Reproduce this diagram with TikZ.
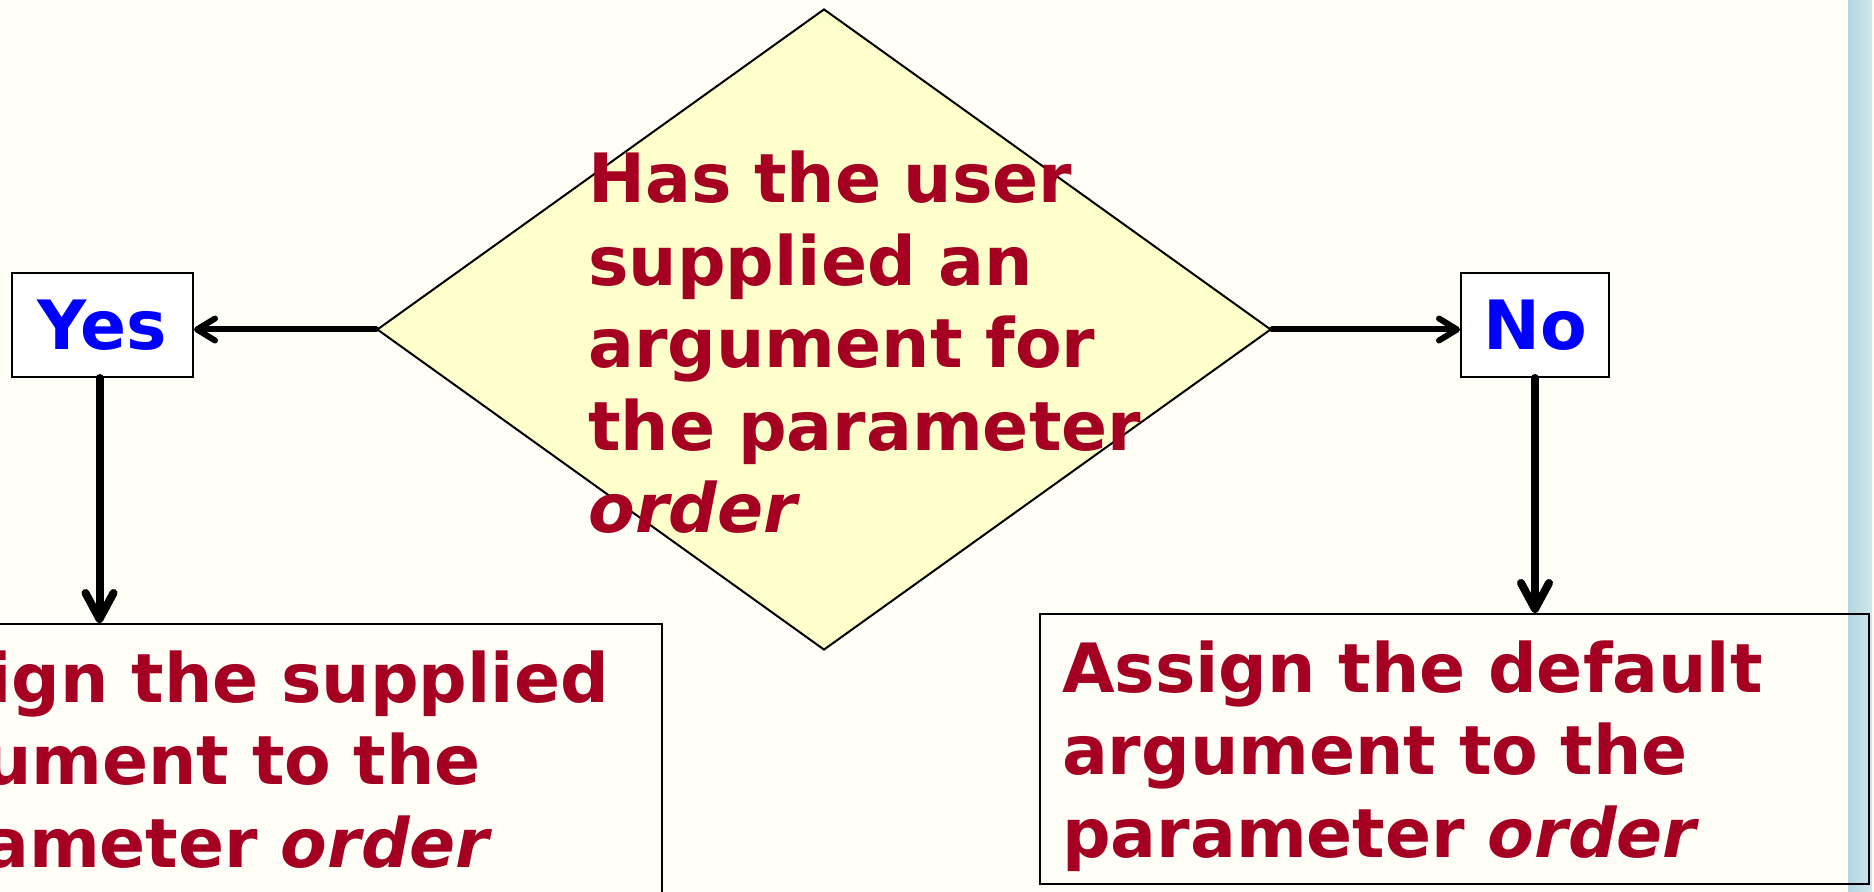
\documentclass[tikz,border=0pt]{standalone}
\usepackage{fontspec}
\setmainfont{DejaVu Sans}
\usetikzlibrary{shapes.geometric,arrows.meta}

\definecolor{bgivory}{HTML}{FFFFF7}
\definecolor{dfill}{HTML}{FFFFCC}
\definecolor{txtred}{HTML}{A50021}
\definecolor{stripleft}{HTML}{B2D6E0}
\definecolor{stripright}{HTML}{D0E6EC}

\newcommand{\bigfont}{\bfseries\fontsize{34}{41.25}\selectfont}

\tikzset{
  decision/.style={diamond, draw=black, line width=1pt, fill=dfill,
    minimum width=447pt, minimum height=320.5pt, inner sep=0pt},
  qtext/.style={text=txtred, font=\bigfont, align=left, text width=300pt, inner sep=0pt},
  choice/.style={draw=black, line width=1pt, fill=white, text=blue, font=\bigfont,
    minimum height=52pt, inner sep=0pt},
  action/.style={draw=black, line width=1pt, text=txtred, font=\bigfont, align=left,
    text width=392.5pt, inner xsep=11pt, inner ysep=0pt, text height=39pt, text depth=96pt},
  harrow/.style={line width=3pt, line cap=round,
    -{Straight Barb[length=9pt, width=11pt, line cap=round, line join=round]}},
  varrow/.style={line width=4pt, line cap=round,
    -{Straight Barb[length=13pt, width=14pt, line cap=round, line join=round]}}
}

\begin{document}
\begin{tikzpicture}[x=0.5pt, y=-0.5pt]
  \useasboundingbox (0,0) rectangle (1874,892);
  \clip (0,0) rectangle (1874,892);
  \fill[bgivory] (0,0) rectangle (1874,892);
  \shade[left color=stripleft, right color=stripright] (1848,0) rectangle (1872,892);

  % --- Question ---
  \node[decision] (q) at (824,329.5) {};
  \node[qtext, anchor=base west] (qt) at (588,203)
    {Has the user\\ supplied an\\ argument for\\ the parameter\\ \textit{order}};

  % --- Yes / No ---
  \node[choice, minimum width=90.5pt] (yes) at (102.5,325) {Yes};
  \node[choice, minimum width=74pt] (no) at (1535,325) {No};

  % --- Actions ---
  \node[action, anchor=base west] (sup) at (-168,702)
    {Assign the supplied\\ argument to the\\ parameter \textit{order}};
  \node[action, anchor=base west] (def) at (1039,692)
    {Assign the default\\ argument to the\\ parameter \textit{order}};

  % --- Arrows ---
  \draw[harrow] (q.west) -- (q.west -| yes.east);
  \draw[harrow] (q.east) -- (q.east -| no.west);
  \draw[varrow] ([xshift=-1.5pt]yes.south) -- ([xshift=-1.5pt]yes.south |- sup.north);
  \draw[varrow] (no.south) -- (no.south |- def.north);
\end{tikzpicture}
\end{document}
